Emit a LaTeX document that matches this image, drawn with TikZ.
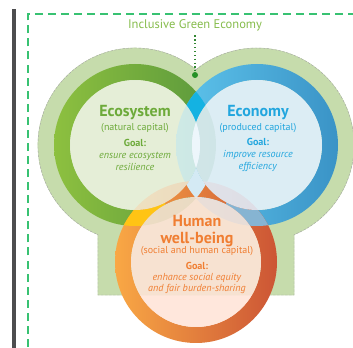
\documentclass[tikz,border=0pt]{standalone}
\usepackage{fontspec}
\setmainfont{PT Sans}

\definecolor{halo}{HTML}{C6DCAC}
\definecolor{frameg}{HTML}{38C272}
\definecolor{barg}{HTML}{4D4D4F}
\definecolor{ecoA}{HTML}{8DC03F}
\definecolor{ecoB}{HTML}{5A983C}
\definecolor{ecoIn}{HTML}{EEF4E4}
\definecolor{ecoT}{HTML}{6DAA3A}
\definecolor{ecnA}{HTML}{5EC4EC}
\definecolor{ecnB}{HTML}{3A93C6}
\definecolor{ecnIn}{HTML}{E0F0FF}
\definecolor{ecnT}{HTML}{22A6DE}
\definecolor{humA}{HTML}{F9A845}
\definecolor{humB}{HTML}{EC7A36}
\definecolor{humC}{HTML}{CC5535}
\definecolor{humIn}{HTML}{FFE4D7}
\definecolor{humT}{HTML}{F07E32}
\definecolor{titleg}{HTML}{86BC4C}
\definecolor{cyanx}{HTML}{14B2E2}
\definecolor{yellowx}{HTML}{FFC414}
\definecolor{steelx}{HTML}{86B4D2}
\definecolor{palex}{HTML}{D4EAF4}
\definecolor{creamx}{HTML}{FFF4D8}
\definecolor{lensx}{HTML}{F4FAFD}

\tikzset{
  ringname/.style={font=\bfseries\fontsize{12}{14}\selectfont, align=center},
  ringcap/.style={font=\fontsize{7.5}{9}\selectfont},
  goaltext/.style={font=\fontsize{7.6}{9.3}\selectfont, align=center},
}

\begin{document}
\begin{tikzpicture}[x=0.75pt,y=-0.75pt]
    \useasboundingbox (0,0) rectangle (353,348);
    \clip (0,0) rectangle (353,348);

    % frame
    \fill[barg] (11.5,9) rectangle (15.5,348);
    \draw[frameg, line width=1.5pt, dash pattern=on 6pt off 3.8pt] (28,360) -- (28,14) -- (370,14);

    \coordinate (E) at (135,145);
    \coordinate (C) at (257,145);
    \coordinate (H) at (196,262);

    % green background
    \draw[halo, fill=halo] (196,69.6) arc[start angle=-51, end angle=-247.6, radius=97]
        -- (98,295) -- (294,295) -- (294,234.7) arc[start angle=67.6, end angle=-129, radius=97] -- cycle;
    \draw[gray!70, line width=0.3pt, dash pattern=on 2pt off 1pt] (196,69.6) arc[start angle=-51, end angle=-247.6, radius=97]
        -- (98,295) -- (294,295) -- (294,234.7) arc[start angle=67.6, end angle=-129, radius=97];

    % rings
    \shade[even odd rule, left color=ecoA, right color=ecoB] (E) circle (81) (E) circle (65);
    \shade[even odd rule, left color=ecnA, right color=ecnB] (C) circle (81) (C) circle (65);
    \shade[even odd rule, left color=humA, middle color=humB, right color=humC] (H) circle (81) (H) circle (65);

    % ring crossings
    \begin{scope}[even odd rule]
        \clip (E) circle (81) (E) circle (65);
        \clip (0,0) rectangle (353,145);
        \fill[cyanx] (C) circle (81) (C) circle (65);
    \end{scope}
    \begin{scope}[even odd rule]
        \clip (E) circle (81) (E) circle (65);
        \clip (150,145) rectangle (353,348);
        \fill[palex] (C) circle (81) (C) circle (65);
    \end{scope}
    \begin{scope}[even odd rule]
        \clip (E) circle (81) (E) circle (65);
        \clip (0,145) rectangle (165,348);
        \fill[yellowx] (H) circle (81) (H) circle (65);
    \end{scope}
    \begin{scope}[even odd rule]
        \clip (C) circle (81) (C) circle (65);
        \clip (226,145) rectangle (353,348);
        \fill[steelx] (H) circle (81) (H) circle (65);
    \end{scope}

    % inner discs
    \fill[ecoIn, fill opacity=0.78] (E) circle (65);
    \fill[ecnIn, fill opacity=0.88] (C) circle (65);
    \fill[humIn, fill opacity=0.87] (H) circle (65);

    % lenses
    \begin{scope}
        \clip (E) circle (65);
        \fill[lensx, fill opacity=0.65] (C) circle (65);
    \end{scope}
    \begin{scope}
        \clip (E) circle (65);
        \fill[creamx, fill opacity=0.6] (H) circle (65);
    \end{scope}
    \begin{scope}
        \clip (C) circle (65);
        \fill[white, fill opacity=0.5] (H) circle (65);
    \end{scope}

    % title and pointer
    \node[font=\fontsize{9.4}{11}\selectfont, text=titleg] (igeTitle) at (195,25) {Inclusive Green Economy};
    \coordinate (igeDot) at (195,75);
    \draw[dotted, line width=0.9pt, color=black!45!green!60!gray] (igeTitle.south) -- (igeDot);
    \fill[black!40!green!70!gray] (igeDot) circle (3);

    % texts
    \node[ringname, text=ecoT] (ecoName) at (135,113) {Ecosystem};
    \node[ringcap, text=ecoT] (ecoCap) at (135,128) {(natural capital)};
    \node[goaltext, text=ecoT] (ecoGoal) at (135,155) {\textbf{Goal:}\\\textit{ensure ecosystem}\\\textit{resilience}};

    \node[ringname, text=ecnT] (ecnName) at (258,113) {Economy};
    \node[ringcap, text=ecnT] (ecnCap) at (258,128) {(produced capital)};
    \node[goaltext, text=ecnT] (ecnGoal) at (258,155) {\textbf{Goal:}\\\textit{improve resource}\\\textit{efficiency}};

    \node[ringname, text=humT, font=\bfseries\fontsize{12}{12.8}\selectfont] (humName) at (197,231) {Human\\well-being};
    \node[ringcap, text=humT] (humCap) at (197,251) {(social and human capital)};
    \node[goaltext, text=humT, font=\fontsize{7.6}{8.4}\selectfont] (humGoal) at (197,278) {\textbf{Goal:}\\\textit{enhance social equity}\\\textit{and fair burden-sharing}};
\end{tikzpicture}
\end{document}
